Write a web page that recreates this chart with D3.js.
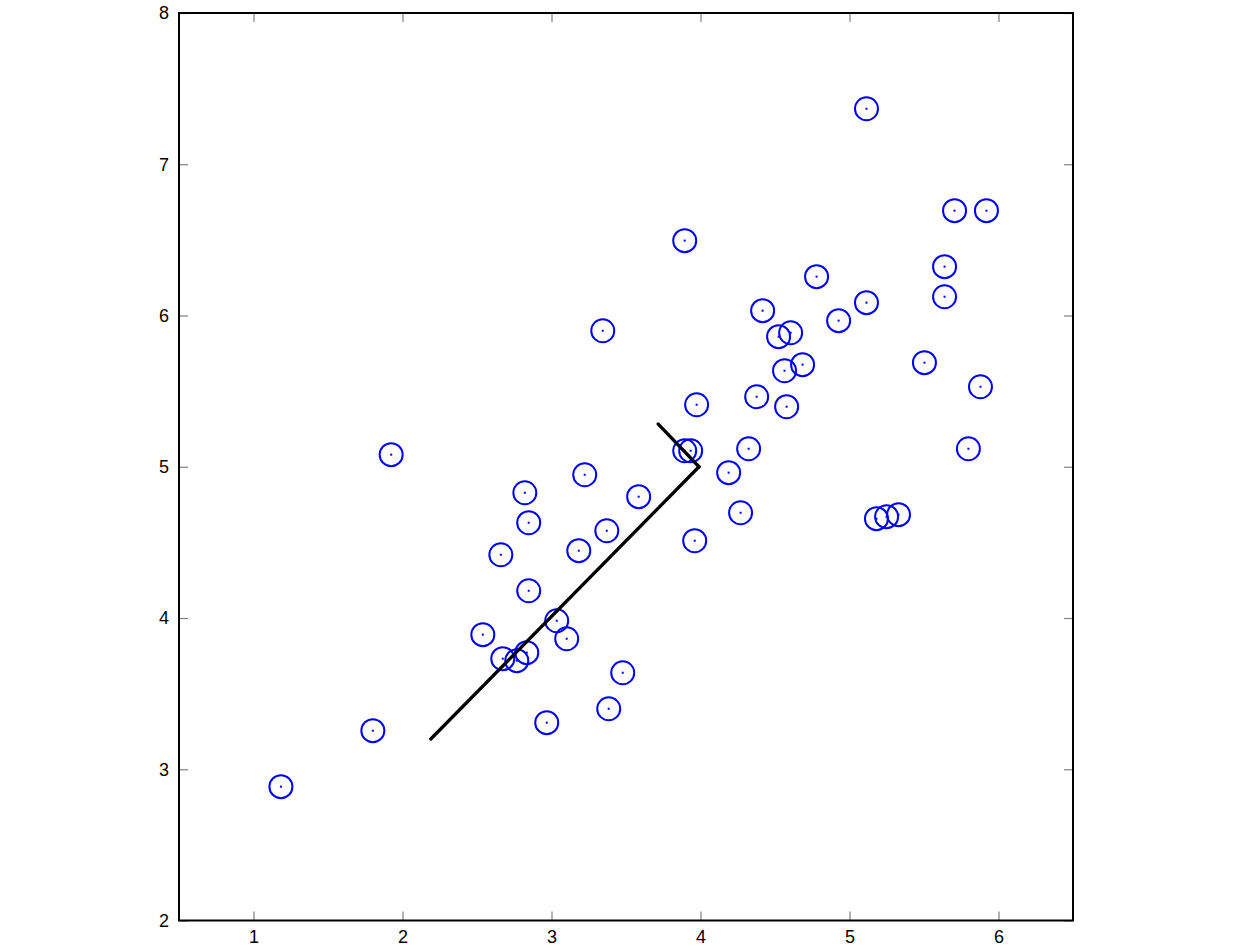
<!DOCTYPE html>
<html lang="en">
  <head>
    <meta charset="utf-8" />
    <title>PCA eigenvectors</title>
    <style>
      body {
        margin: 0;
        background: #fff;
      }
      text {
        font-family: 'Liberation Sans', Arial, Helvetica, sans-serif;
        font-size: 18px;
        fill: #000;
      }
    </style>
  </head>
  <body>
    <div id="chart"></div>

    <script src="https://cdnjs.cloudflare.com/ajax/libs/d3/7.4.4/d3.min.js"></script>
    <script type="text/javascript">
      // Data points
      var xs = [
        1.184, 1.801, 1.924, 2.539, 2.66, 2.673, 2.767, 2.834, 2.821, 2.847, 2.847, 2.968, 3.035, 3.102, 3.183, 3.223,
        3.344, 3.371, 3.384, 3.478, 3.585, 3.894, 3.894, 3.934, 3.961, 3.974, 4.189, 4.269, 4.323, 4.377, 4.417, 4.524,
        4.564, 4.578, 4.605, 4.685, 4.779, 4.927, 5.114, 5.114, 5.181, 5.249, 5.329, 5.503, 5.638, 5.638, 5.705, 5.919,
        5.798, 5.879
      ]
      var ys = [
        2.885, 3.255, 5.08, 3.89, 4.418, 3.731, 3.718, 3.771, 4.828, 4.63, 4.18, 3.308, 3.982, 3.863, 4.445, 4.947,
        5.899, 4.577, 3.4, 3.638, 4.802, 6.495, 5.106, 5.106, 4.511, 5.41, 4.961, 4.696, 5.119, 5.463, 6.032, 5.86,
        5.635, 5.397, 5.886, 5.675, 6.257, 5.966, 7.367, 6.085, 4.657, 4.67, 4.683, 5.688, 6.323, 6.124, 6.693, 6.693,
        5.119, 5.529
      ]

      // Mean and the two eigenvector end points
      var mu = [3.99, 5.0]
      var eig1 = [2.19, 3.2]
      var eig2 = [3.715, 5.283]

      var xTicks = [1, 2, 3, 4, 5, 6]
      var yTicks = [2, 3, 4, 5, 6, 7, 8]

      var W = 1254,
        H = 946
      var margin = { top: 13, right: 181, bottom: 25.5, left: 179 },
        width = W - margin.left - margin.right,
        height = H - margin.top - margin.bottom

      var svg = d3
        .select('#chart')
        .append('svg')
        .attr('width', W)
        .attr('height', H)
        .append('g')
        .attr('transform', 'translate(' + margin.left + ',' + margin.top + ')')

      var x = d3.scaleLinear().domain([0.5, 6.5]).range([0, width])
      var y = d3.scaleLinear().domain([2, 8]).range([height, 0])

      // Axes with inward ticks on all four sides
      function styleAxis(g) {
        g.select('.domain').remove()
        g.selectAll('.tick line').attr('stroke', '#808080').attr('stroke-width', 1.2)
      }

      svg
        .append('g')
        .attr('transform', 'translate(0,' + height + ')')
        .call(d3.axisBottom(x).tickValues(xTicks).tickSize(-9).tickPadding(9.5).tickFormat(d3.format('d')))
        .call(styleAxis)
      svg
        .append('g')
        .call(d3.axisTop(x).tickValues(xTicks).tickSize(-9).tickFormat(''))
        .call(styleAxis)
      svg
        .append('g')
        .call(d3.axisLeft(y).tickValues(yTicks).tickSize(-9).tickPadding(10).tickFormat(d3.format('d')))
        .call(styleAxis)
      svg
        .append('g')
        .attr('transform', 'translate(' + width + ',0)')
        .call(d3.axisRight(y).tickValues(yTicks).tickSize(-9).tickFormat(''))
        .call(styleAxis)

      svg.selectAll('.tick text').attr('font-size', 18).attr('font-family', null)

      // Frame
      svg
        .append('rect')
        .attr('x', 0)
        .attr('y', 0)
        .attr('width', width)
        .attr('height', height)
        .attr('fill', 'none')
        .attr('stroke', '#000')
        .attr('stroke-width', 2)

      var points = xs.map(function (d, i) {
        return [d, ys[i]]
      })

      // Circles
      svg
        .selectAll('circle.pt')
        .data(points)
        .enter()
        .append('circle')
        .attr('class', 'pt')
        .attr('cx', function (d) {
          return x(d[0])
        })
        .attr('cy', function (d) {
          return y(d[1])
        })
        .attr('r', 11.5)
        .attr('fill', 'none')
        .attr('stroke', '#0000ff')
        .attr('stroke-width', 2)

      // Centre dots
      svg
        .selectAll('rect.dot')
        .data(points)
        .enter()
        .append('rect')
        .attr('class', 'dot')
        .attr('x', function (d) {
          return x(d[0]) - 1
        })
        .attr('y', function (d) {
          return y(d[1]) - 1
        })
        .attr('width', 2)
        .attr('height', 2)
        .attr('fill', '#0000ff')

      // Eigenvectors
      var line = d3
        .line()
        .x(function (d) {
          return x(d[0])
        })
        .y(function (d) {
          return y(d[1])
        })

      ;[
        [mu, eig1],
        [mu, eig2]
      ].forEach(function (seg) {
        svg
          .append('path')
          .attr('d', line(seg))
          .attr('fill', 'none')
          .attr('stroke', '#000')
          .attr('stroke-width', 3.3)
          .attr('stroke-linecap', 'round')
      })
    </script>
  </body>
</html>
